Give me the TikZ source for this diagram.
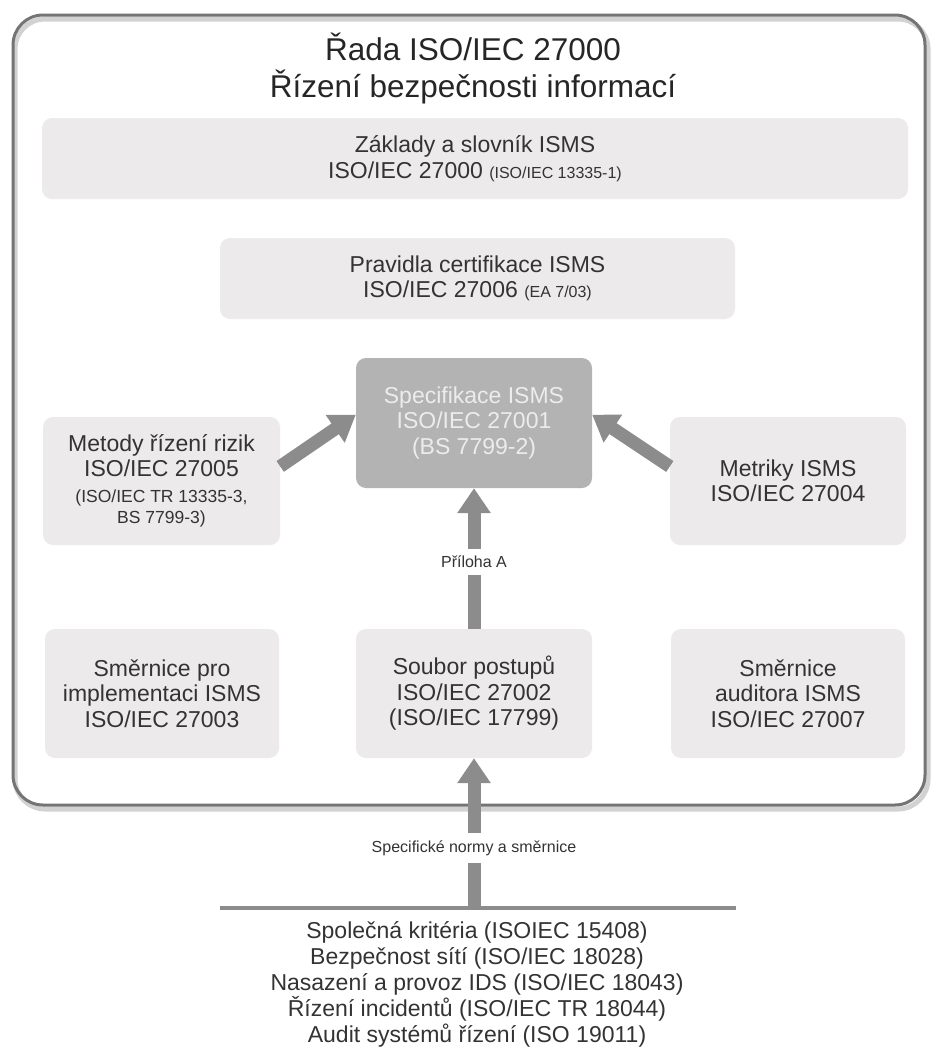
\documentclass[tikz,border=0pt]{standalone}
\usepackage{fontspec}
\setmainfont{Liberation Sans}
\usetikzlibrary{arrows.meta}
\definecolor{boxfill}{HTML}{ECEAEA}
\definecolor{specfill}{HTML}{B3B3B3}
\definecolor{spectext}{HTML}{ECECEC}
\definecolor{arrowgray}{HTML}{8C8C8C}
\definecolor{framegray}{HTML}{747474}
\definecolor{txt}{HTML}{333333}
\newcommand{\smalltxt}{\fontsize{16}{19}\selectfont}
\begin{document}
\begin{tikzpicture}[x=1pt,y=-1pt,
  frame/.style={draw=framegray, line width=3pt, rounded corners=30pt, inner sep=0pt},
  stdbox/.style={fill=boxfill, rounded corners=10pt, align=center, text=txt, inner sep=0pt,
     font=\fontsize{23}{25.5}\selectfont},
  specbox/.style={stdbox, fill=specfill, text=spectext},
  bigarrow/.style={draw=arrowgray, line width=13pt, -{Triangle[length=25pt,width=32pt]}},
  lbl/.style={fill=white, text=txt, font=\fontsize{16}{19}\selectfont, inner xsep=3pt, inner ysep=7pt},
  hline/.style={draw=arrowgray, line width=4pt}
]
\useasboundingbox (0,0) rectangle (931,1047);
% frame with faint shadow
\draw[gray!35, line width=5pt, rounded corners=30pt] (15,19) rectangle (928,809);
\node[frame, minimum width=912pt, minimum height=790pt] (frame) at (469,410) {};
\node[align=center, text=black!85, font=\fontsize{31.5}{37}\selectfont] (title) at (473,68)
  {Řada ISO/IEC 27000\\Řízení bezpečnosti informací};
\node[stdbox, minimum width=866pt, minimum height=81pt] (zaklady) at (475,158.5)
  {Základy a slovník ISMS\\ISO/IEC 27000 {\smalltxt (ISO/IEC 13335-1)}};
\node[stdbox, minimum width=515pt, minimum height=81pt] (pravidla) at (477.5,278.5)
  {Pravidla certifikace ISMS\\ISO/IEC 27006 {\smalltxt (EA 7/03)}};
\node[specbox, minimum width=236pt, minimum height=130pt] (spec) at (474,423)
  {Specifikace ISMS\\ISO/IEC 27001\\(BS 7799-2)};
\node[stdbox, minimum width=237pt, minimum height=128pt] (metody) at (161.5,481)
  {Metody řízení rizik\\ISO/IEC 27005\\{\fontsize{17.5}{20}\selectfont (ISO/IEC TR 13335-3,}\\[-4pt]{\fontsize{17.5}{20}\selectfont BS 7799-3)}};
\node[stdbox, minimum width=236pt, minimum height=128pt] (metriky) at (788,481)
  {Metriky ISMS\\ISO/IEC 27004};
\node[stdbox, minimum width=234pt, minimum height=129pt] (smernice) at (162,693.5)
  {Směrnice pro\\implementaci ISMS\\ISO/IEC 27003};
\node[stdbox, minimum width=236pt, minimum height=129pt] (soubor) at (474,693.5)
  {Soubor postupů\\ISO/IEC 27002\\(ISO/IEC 17799)};
\node[stdbox, minimum width=234pt, minimum height=129pt] (auditor) at (788,693.5)
  {Směrnice\\auditora ISMS\\ISO/IEC 27007};
% arrows
\draw[bigarrow] (metody.7) -- (spec.176);
\draw[bigarrow] (metriky.173) -- (spec.4);
\draw[bigarrow] (soubor.north) -- (spec.south);
\node[lbl] (priloha) at (474,562) {Příloha A};
\coordinate (hlL) at (220,908);
\coordinate (hlR) at (736,908);
\coordinate (hlM) at (474,908);
\draw[hline] (hlL) -- (hlR);
\draw[bigarrow] (hlM) -- (soubor.south);
\node[lbl] (specif) at (474,848) {Specifické normy a směrnice};
\node[align=center, text=txt, font=\fontsize{23}{26}\selectfont, anchor=north] (list) at (477,918)
  {Společná kritéria (ISOIEC 15408)\\Bezpečnost sítí (ISO/IEC 18028)\\Nasazení a provoz IDS (ISO/IEC 18043)\\Řízení incidentů (ISO/IEC TR 18044)\\Audit systémů řízení (ISO 19011)};
\end{tikzpicture}
\end{document}
